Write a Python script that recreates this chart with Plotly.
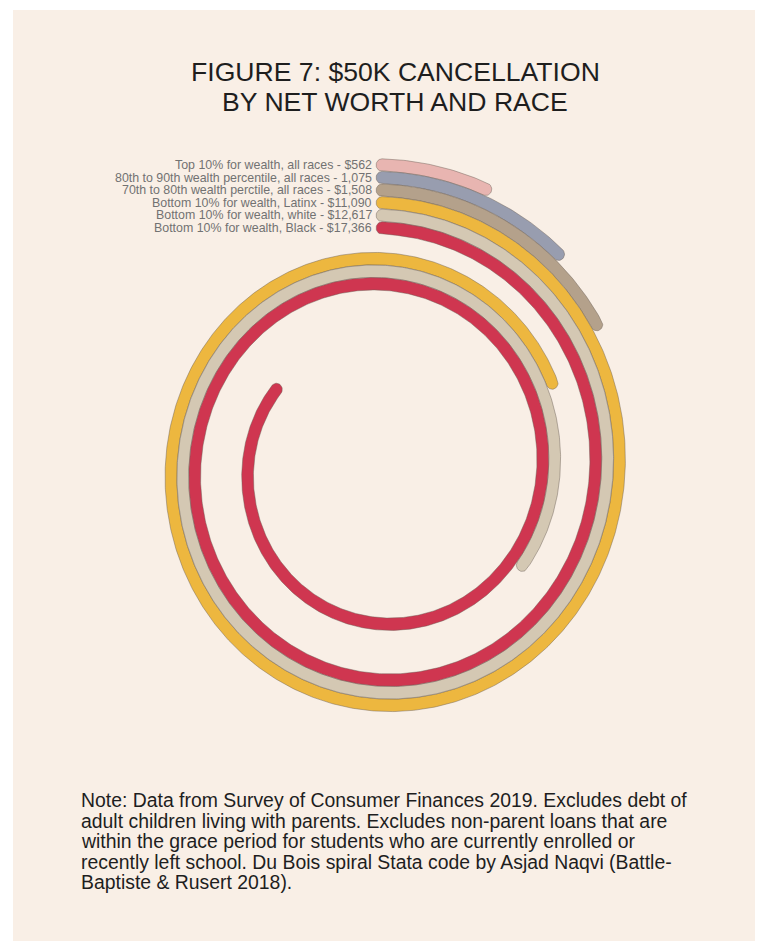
import numpy as np
import plotly.graph_objects as go

# Du Bois spiral: $50K cancellation by net worth and race
groups = [
    "Top 10% for wealth, all races - $562",
    "80th to 90th wealth percentile, all races - 1,075",
    "70th to 80th wealth perctile, all races - $1,508",
    "Bottom 10% for wealth, Latinx - $11,090",
    "Bottom 10% for wealth, white - $12,617",
    "Bottom 10% for wealth, Black - $17,366",
]
amounts = [562, 1075, 1508, 11090, 12617, 17366]
colors = ["#E8B5B1", "#989DAF", "#B4A18B", "#EDB73F", "#D4C8B3", "#CF3650"]

note_lines = [
    "Note: Data from Survey of Consumer Finances 2019. Excludes debt of",
    "adult children living with parents. Excludes non-parent loans that are",
    "within the grace period for students who are currently enrolled or",
    "recently left school. Du Bois spiral Stata code by Asjad Naqvi (Battle-",
    "Baptiste & Rusert 2018).",
]

OFF = 8                    # page body margin around the plot div
W, H = 763 - OFF, 941 - OFF
CX, CY = 382 - OFF, 468 - OFF   # spiral centre in figure pixels
SX = 0.945                 # horizontal squeeze of the original picture
R_INNER = 240              # start radius of the innermost band
GAP = 12.6                 # distance between bands
BAND = 12.4                # band thickness
DROP = 28 / np.pi          # radius lost per radian
DEG_PER_DOLLAR = 0.0383

BG = "#F9EFE6"
FONT = "Liberation Sans, Arial, sans-serif"


def band_polygon(r0, theta_end, h):
    t = np.linspace(0, theta_end, max(int(theta_end / 0.01), 10))
    r = r0 - DROP * t
    outer_x, outer_y = (r + h) * np.sin(t), (r + h) * np.cos(t)
    inner_x, inner_y = (r - h) * np.sin(t), (r - h) * np.cos(t)

    def cap(theta, phis):
        rc = r0 - DROP * theta
        cx, cy = rc * np.sin(theta), rc * np.cos(theta)
        nx, ny = np.sin(theta), np.cos(theta)
        tx, ty = np.cos(theta), -np.sin(theta)
        return (cx + h * (nx * np.cos(phis) + tx * np.sin(phis)),
                cy + h * (ny * np.cos(phis) + ty * np.sin(phis)))

    ex, ey = cap(theta_end, np.linspace(0, np.pi, 20))
    sx, sy = cap(0.0, np.linspace(np.pi, 2 * np.pi, 20))
    xs = np.concatenate([outer_x, ex, inner_x[::-1], sx])
    ys = np.concatenate([outer_y, ey, inner_y[::-1], sy])
    return xs, ys


fig = go.Figure()

n = len(amounts)
for i, (name, val, col) in enumerate(zip(groups, amounts, colors)):
    r0 = R_INNER + (n - 1 - i) * GAP
    theta_end = np.radians(val * DEG_PER_DOLLAR)
    xs, ys = band_polygon(r0, theta_end, BAND / 2)
    fig.add_trace(go.Scatter(
        x=xs, y=ys,
        mode='lines',
        fill='toself',
        fillcolor=col,
        line=dict(color='rgba(105,95,85,0.75)', width=0.6),
        name=name,
        hoverinfo='name',
        showlegend=False
    ))
    # label at the start of the band
    fig.add_annotation(
        x=-9.5 / SX, y=r0,
        xref='x', yref='y',
        text=name,
        showarrow=False,
        borderpad=0,
        xanchor='right', yanchor='middle',
        font=dict(family=FONT, size=12.4, color='#727272')
    )

# title
for j, line in enumerate(["FIGURE 7: $50K CANCELLATION", "BY NET WORTH AND RACE"]):
    fig.add_annotation(
        x=(395 - OFF) / W, y=1 - (72.5 - OFF + 29 * j) / H,
        xref='paper', yref='paper',
        text=line, showarrow=False,
        xanchor='center', yanchor='middle',
        font=dict(family=FONT, size=26.6, color='#1e1e1e')
    )

# note
for j, line in enumerate(note_lines):
    fig.add_annotation(
        x=(80 - OFF) / W, y=1 - (800 - OFF + 20.5 * j) / H,
        xref='paper', yref='paper',
        text=line, showarrow=False,
        borderpad=0,
        xanchor='left', yanchor='middle',
        font=dict(family=FONT, size=19.4, color='#1e1e1e')
    )

fig.update_layout(
    width=W, height=H,
    margin=dict(l=0, r=0, t=0, b=0),
    paper_bgcolor='white',
    plot_bgcolor='rgba(0,0,0,0)',
    showlegend=False,
    shapes=[dict(type='rect', xref='paper', yref='paper',
                 x0=(13 - OFF) / W, x1=1, y0=0, y1=1 - (10 - OFF) / H,
                 fillcolor=BG, line=dict(width=0), layer='below')],
    xaxis=dict(range=[-CX / SX, (W - CX) / SX], visible=False, fixedrange=True),
    yaxis=dict(range=[CY - H, CY], visible=False, fixedrange=True),
)

fig.write_html("out.html")
